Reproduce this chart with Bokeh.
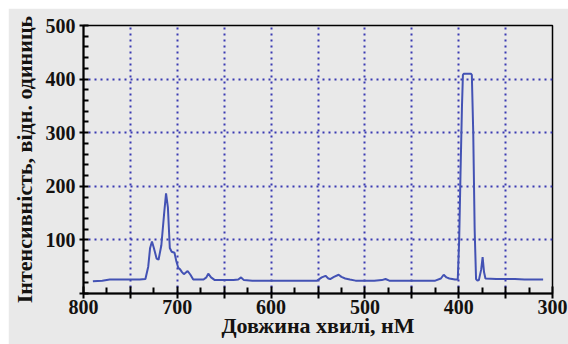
from bokeh.plotting import figure
from bokeh.models import Range1d, FixedTicker
from bokeh.embed import file_html
from bokeh.resources import INLINE

# Spectrum
wavelength = [790, 780, 772, 760, 740, 734, 731, 729, 727, 725, 722, 720, 717, 714, 712,
              710, 708, 706, 703, 701, 699, 697, 695, 693, 689, 686, 683, 672, 669, 667,
              664, 660, 640, 635, 632, 629, 620, 600, 560, 551, 546, 542, 539, 537, 533,
              528, 525, 521, 516, 510, 490, 482, 478, 474, 460, 440, 425, 419, 416, 413,
              410, 404, 401, 399.5, 398, 396.5, 395.5, 394.5, 387, 386, 384.5, 383, 381.5,
              380, 378.5, 376, 374.5, 373, 371.5, 360, 340, 330, 320, 310]
intensity = [23, 24, 26, 26, 26, 27, 50, 85, 97, 85, 65, 63, 90, 150, 187,
             160, 85, 78, 76, 60, 48, 45, 40, 36, 42, 35, 26, 26, 30, 37,
             30, 25, 25, 26, 30, 25, 24, 24, 24, 24, 30, 33, 28, 27, 31,
             35, 31, 28, 26, 24, 24, 25, 27, 24, 24, 24, 24, 28, 35, 30,
             28, 26, 26, 100, 230, 350, 408, 410, 410, 408, 300, 120, 27,
             24, 25, 45, 68, 40, 28, 27, 27, 26, 26, 26]

x_major = [800, 750, 700, 650, 600, 550, 500, 450, 400, 350, 300]
x_minor = [775, 725, 675, 625, 575, 525, 475, 425, 375, 325]
x_labels = {800: "800", 750: "", 700: "700", 650: "", 600: "600", 550: "",
            500: "500", 450: "", 400: "400", 350: "", 300: "300"}
y_major = [0, 100, 200, 300, 400, 500]
y_minor = [20, 40, 60, 80, 120, 140, 160, 180, 220, 240, 260, 280,
           320, 340, 360, 380, 420, 440, 460, 480]
y_labels = {0: "", 100: "100", 200: "200", 300: "300", 400: "400", 500: "500"}
x_title = "Довжина хвилі, нМ"
y_title = "Інтенсивність, відн. одиниць"

BG = "#e9e9e9"
FONT = "Liberation Serif"
TXT = "#141210"

p = figure(width=560, height=336, output_backend="svg", toolbar_location=None,
           x_range=Range1d(800, 300), y_range=Range1d(0, 500),
           min_border_left=71, min_border_right=16, min_border_top=17, min_border_bottom=51)
p.margin = (8, 0, 0, 8)
p.background_fill_color = BG
p.border_fill_color = BG
p.outline_line_color = "black"
p.outline_line_width = 1.5

p.line(wavelength, intensity, line_color="#4352b4", line_width=2)

p.xaxis.ticker = FixedTicker(ticks=x_major, minor_ticks=x_minor)
p.yaxis.ticker = FixedTicker(ticks=y_major, minor_ticks=y_minor)
p.xaxis.major_label_overrides = x_labels
p.yaxis.major_label_overrides = y_labels

for ax in (p.xaxis[0], p.yaxis[0]):
    ax.axis_line_color = "black"
    ax.axis_line_width = 2
    ax.major_tick_line_color = "black"
    ax.major_tick_line_width = 2
    ax.minor_tick_line_color = "black"
    ax.minor_tick_line_width = 2
    ax.major_label_text_font = FONT
    ax.major_label_text_font_style = "bold"
    ax.major_label_text_font_size = "20px"
    ax.major_label_text_color = TXT
    ax.axis_label_text_font = FONT
    ax.axis_label_text_font_style = "bold"
    ax.axis_label_text_color = TXT

p.xaxis.major_tick_in = 7
p.xaxis.major_tick_out = 5
p.xaxis.minor_tick_in = 6
p.xaxis.minor_tick_out = 0
p.xaxis.major_label_standoff = 1
p.xaxis.axis_label = x_title
p.xaxis.axis_label_text_font_size = "22px"
p.xaxis.axis_label_standoff = -4

p.yaxis.major_tick_in = 5
p.yaxis.major_tick_out = 4
p.yaxis.minor_tick_in = 5
p.yaxis.minor_tick_out = 0
p.yaxis.major_label_standoff = 4
p.yaxis.axis_label = y_title
p.yaxis.axis_label_text_font_size = "22px"
p.yaxis.axis_label_standoff = 6

p.xgrid.ticker = FixedTicker(ticks=[750, 700, 650, 600, 550, 500, 450, 400, 350])
p.ygrid.ticker = FixedTicker(ticks=[100, 200, 300, 400])
for g in (p.xgrid[0], p.ygrid[0]):
    g.grid_line_color = "#3a3ab2"
    g.grid_line_width = 2
    g.grid_line_dash = "2 4"

open("out.html", "w").write(file_html(p, INLINE))
